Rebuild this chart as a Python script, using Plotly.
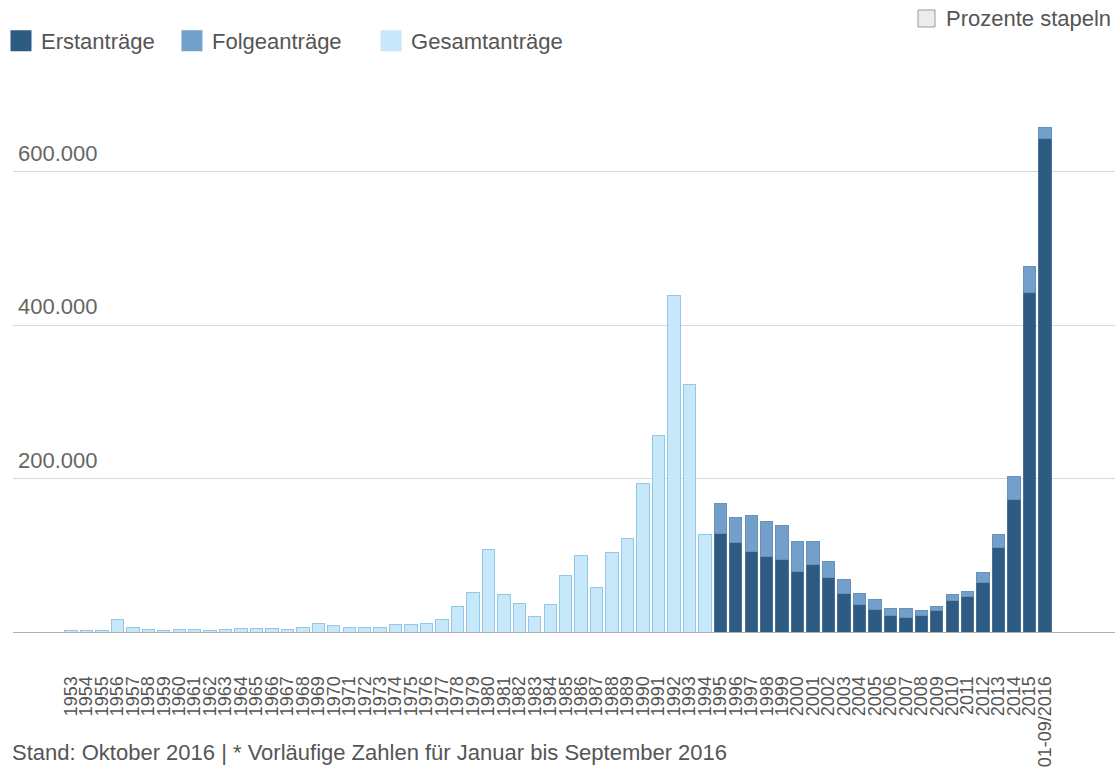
import plotly.graph_objects as go

# ---------------- data ----------------
years_total = [str(y) for y in range(1953, 1995)]
gesamt = [1906, 2174, 1926, 16284, 5622, 2785, 2267, 2980, 2722, 2550,
          3238, 4542, 4337, 4868, 2992, 5608, 11664, 8645, 5388, 5289,
          5595, 9424, 9627, 11123, 16410, 33136, 51493, 107818, 49391, 37423,
          19737, 35278, 73832, 99650, 57379, 103076, 121318, 193063, 256112, 438191,
          322599, 127210]

years_split = [str(y) for y in range(1995, 2016)] + ["01-09/2016"]
erst = [127937, 116367, 104353, 98644, 95113, 78564, 88287, 71127, 50563, 35607,
        28914, 21029, 19164, 22085, 27649, 41332, 45741, 64539, 109580, 173072,
        441899, 643211]
folge = [39014, 32826, 47347, 44785, 43206, 39084, 30019, 20344, 17285, 14545,
         13994, 9071, 11139, 6009, 5384, 7257, 7606, 13112, 17443, 29762,
         35050, 14644]

categories = years_total + years_split
y_ticks = [200000, 400000, 600000]
y_tick_labels = ["200.000", "400.000", "600.000"]

# ---------------- style ----------------
C_ERST = "#2d5b82"
C_FOLGE = "#739fcb"
C_GES = "#c7e7fa"
C_GES_LINE = "#94c6e6"
FONT = "Arial, Liberation Sans, sans-serif"
TXT = "#555555"
NB = "\u00a0"

W, H = 1115, 768
ML, MR, MT, MB = 13, 0, 91, 136
PW = W - ML - MR
PH = H - MT - MB


def px_x(p):
    return (p - ML) / PW


def px_y(p):
    return (H - MB - p) / PH


fig = go.Figure()

fig.add_trace(go.Bar(
    x=years_split, y=erst, name="Erstanträge", showlegend=False,
    marker=dict(color=C_ERST, line=dict(color="#4a7295", width=1)),
))
fig.add_trace(go.Bar(
    x=years_split, y=folge, name="Folgeanträge", showlegend=False,
    marker=dict(color=C_FOLGE, line=dict(color="#6891bb", width=1)),
))
fig.add_trace(go.Bar(
    x=years_total, y=gesamt, name="Gesamtanträge", showlegend=False,
    marker=dict(color=C_GES, line=dict(color=C_GES_LINE, width=1)),
))

# legend proxies (large square swatches)
for nm, pad, col in [("Erstanträge", 2, C_ERST), ("Folgeanträge", 4, C_FOLGE),
                     ("Gesamtanträge", 0, C_GES)]:
    fig.add_trace(go.Scatter(
        x=[None], y=[None], mode="markers", name=nm + NB * pad,
        marker=dict(symbol="square", size=20, color=col, line=dict(width=6, color=col)),
    ))

fig.update_layout(
    width=W, height=H,
    margin=dict(l=ML, r=MR, t=MT, b=MB),
    paper_bgcolor="white", plot_bgcolor="white",
    barmode="stack", bargap=0.2,
    separators=",.",
    font=dict(family=FONT, color=TXT, size=22),
    showlegend=True,
    legend=dict(
        orientation="h", x=px_x(1), xanchor="left", y=px_y(20), yanchor="top",
        font=dict(size=22, color=TXT), itemsizing="trace",
        bgcolor="rgba(0,0,0,0)", traceorder="normal",
    ),
    xaxis=dict(
        type="category", categoryorder="array", categoryarray=categories,
        range=[-3.75, 67.53], tickmode="array", tickvals=categories,
        ticktext=categories, tickangle=-90, ticks="", showgrid=False,
        showline=True, linecolor="#b0b0b0", linewidth=1,
        tickfont=dict(size=18, color="#555555", family=FONT),
        ticklabelstandoff=36, fixedrange=True,
    ),
    yaxis=dict(
        range=[0, 705000], tickmode="array", tickvals=y_ticks,
        showticklabels=False, showgrid=True, gridcolor="#d9d9d9", gridwidth=1,
        zeroline=False, showline=False, ticks="",
        fixedrange=True,
    ),
)

# y tick labels placed above their gridlines (on the y scale)
for v, lab in zip(y_ticks, y_tick_labels):
    fig.add_annotation(xref="paper", yref="y", x=px_x(16), y=v,
                       xanchor="left", yanchor="bottom", yshift=4,
                       showarrow=False, text=lab,
                       font=dict(size=22, color="#666666"))

# checkbox "Prozente stapeln"
fig.add_shape(type="rect", xref="paper", yref="paper",
              x0=px_x(918), x1=px_x(935), y0=px_y(27), y1=px_y(10),
              line=dict(color="#9a9a9a", width=1), fillcolor="#ececec")
fig.add_annotation(xref="paper", yref="paper", x=px_x(944), y=px_y(18),
                   xanchor="left", yanchor="middle", showarrow=False,
                   text="Prozente stapeln", font=dict(size=22, color=TXT))

# footnote
fig.add_annotation(xref="paper", yref="paper", x=px_x(10), y=px_y(752),
                   xanchor="left", yanchor="middle", showarrow=False,
                   text="Stand: Oktober 2016 | * Vorläufige Zahlen für Januar bis September 2016",
                   font=dict(size=22, color=TXT))

fig.write_html("out.html", config={"displayModeBar": False},
               post_script="document.body.style.margin='0';")
